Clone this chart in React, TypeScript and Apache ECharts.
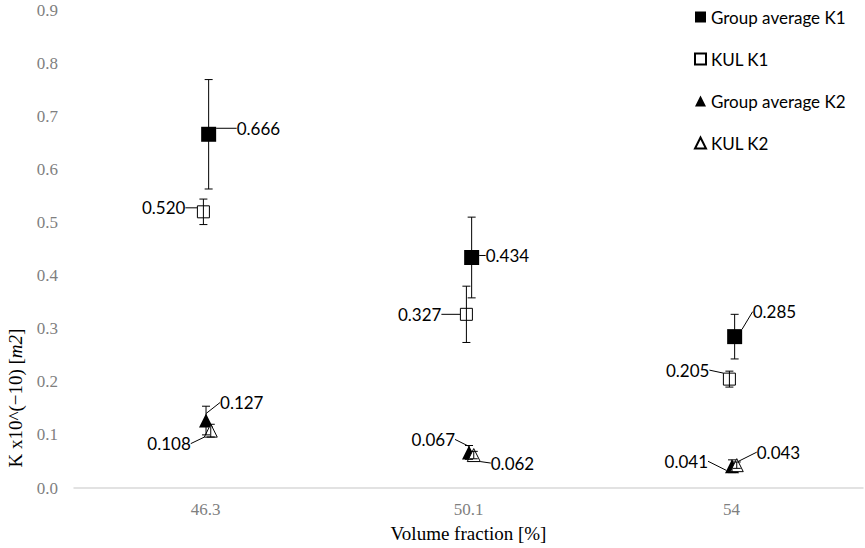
import React, { useEffect, useRef } from "react";
import * as echarts from "echarts";

// ---- data ----
const categories = ["46.3", "50.1", "54"];
const groupK1 = [0.666, 0.434, 0.285];
const groupK1Err = [0.103, 0.076, 0.042];
const kulK1 = [0.52, 0.327, 0.205];
const kulK1Err = [0.024, 0.053, 0.015];
const groupK2 = [0.127, 0.067, 0.041];
const groupK2Err = [0.027, 0.013, 0.012];
const kulK2 = [0.108, 0.062, 0.043];
const kulK2Err = [0.012, 0.007, 0.006];
const yMin = 0;
const yMax = 0.9;
const yStep = 0.1;

// ---- styles / label placement (pixels relative to the point) ----
const labelPlacement: Record<string, { dx: number; dy: number; align: string }[]> = {
  g1: [
    { dx: 28, dy: -6, align: "left" },
    { dx: 14, dy: -2, align: "left" },
    { dx: 18, dy: -25, align: "left" },
  ],
  k1: [
    { dx: -18, dy: -4, align: "right" },
    { dx: -25, dy: 0, align: "right" },
    { dx: -20, dy: -9, align: "right" },
  ],
  g2: [
    { dx: 14, dy: -18, align: "left" },
    { dx: -14, dy: -13, align: "right" },
    { dx: -24, dy: -5, align: "right" },
  ],
  k2: [
    { dx: -20, dy: 13, align: "right" },
    { dx: 17, dy: 8, align: "left" },
    { dx: 20, dy: -13, align: "left" },
  ],
};

const LABEL_FONT = "Lato, 'Noto Sans', sans-serif";
const SERIF = "'Liberation Serif', 'DejaVu Serif', serif";

function pts(vals: number[], shift: number) {
  return vals.map((v, i) => [i + 0.5 + shift, v]);
}
function errs(vals: number[], e: number[], shift: number) {
  return vals.map((v, i) => [i + 0.5 + shift, v - e[i], v + e[i]]);
}

export default function App() {
  const ref = useRef<HTMLDivElement>(null);
  useEffect(() => {
    if (!ref.current) return;
    const chart = echarts.init(ref.current, null, { renderer: "svg" });

    const scatter = (
      name: string,
      vals: number[],
      shift: number,
      symbol: string,
      size: number,
      filled: boolean,
      key: string
    ) => ({
      name,
      type: "scatter",
      xAxisIndex: 1,
      data: pts(vals, shift),
      symbol,
      symbolSize: size,
      z: 3,
      itemStyle: filled
        ? { color: "#000", borderColor: "#000", borderWidth: 0, opacity: 1 }
        : { color: "#fff", borderColor: "#000", borderWidth: 1, opacity: 1 },
      label: {
        show: true,
        position: "right",
        formatter: (p: any) => Number(p.value[1]).toFixed(3),
        fontFamily: LABEL_FONT,
        fontSize: 17,
        color: "#000",
      },
      labelLine: { show: true, lineStyle: { color: "#000", width: 1 } },
      labelLayout: (p: any) => {
        const o = labelPlacement[key][p.dataIndex];
        const cx = p.rect.x + p.rect.width / 2;
        const cy = p.rect.y + p.rect.height / 2;
        return { x: cx + o.dx, y: cy + o.dy, align: o.align, verticalAlign: "middle" };
      },
    });

    const errorBars = (vals: number[], e: number[], shift: number) => ({
      type: "custom",
      xAxisIndex: 1,
      z: 4,
      silent: true,
      encode: { x: 0, y: [1, 2] },
      data: errs(vals, e, shift),
      renderItem: (_params: any, api: any) => {
        const x = api.value(0);
        const top = api.coord([x, api.value(2)]);
        const bot = api.coord([x, api.value(1)]);
        const w = 4;
        const st = { stroke: "#000", lineWidth: 1 };
        return {
          type: "group",
          children: [
            { type: "line", shape: { x1: top[0], y1: top[1], x2: bot[0], y2: bot[1] }, style: st },
            { type: "line", shape: { x1: top[0] - w, y1: top[1], x2: top[0] + w, y2: top[1] }, style: st },
            { type: "line", shape: { x1: bot[0] - w, y1: bot[1], x2: bot[0] + w, y2: bot[1] }, style: st },
          ],
        };
      },
    });

    chart.setOption({
      animation: false,
      backgroundColor: "#fff",
      grid: { left: 74, right: 2, top: 10, bottom: 58, containLabel: false },
      legend: {
        orient: "vertical",
        left: 689,
        top: 2,
        itemWidth: 11,
        itemHeight: 11,
        itemGap: 22,
        textStyle: { fontFamily: LABEL_FONT, fontSize: 17, color: "#000", lineHeight: 20 },
        data: ["Group average K1", "KUL K1", "Group average K2", "KUL K2"],
      },
      xAxis: [
        {
          type: "category",
          data: categories,
          boundaryGap: true,
          axisLine: { show: true, lineStyle: { color: "#d9d9d9", width: 1.5 } },
          axisTick: { show: false },
          axisLabel: { fontFamily: SERIF, fontSize: 17, color: "#7f7f7f", margin: 13 },
          splitLine: { show: false },
          name: "Volume fraction [%]",
          nameLocation: "middle",
          nameGap: 36,
          nameTextStyle: { fontFamily: SERIF, fontSize: 19, color: "#000" },
        },
        {
          type: "value",
          min: 0,
          max: 3,
          show: false,
          splitLine: { show: false },
        },
      ],
      yAxis: {
        type: "value",
        min: yMin,
        max: yMax,
        interval: yStep,
        axisLine: { show: false },
        axisTick: { show: false },
        splitLine: { show: false },
        axisLabel: {
          fontFamily: SERIF,
          fontSize: 17,
          color: "#7f7f7f",
          margin: 16,
          formatter: (v: number) => v.toFixed(1),
        },
      },
      graphic: [
        {
          type: "text",
          x: 15,
          y: 398,
          rotation: Math.PI / 2,
          style: {
            text: "K x10^(−10) [{i|m2}]",
            fontFamily: SERIF,
            fontSize: 19,
            fill: "#000",
            align: "center",
            verticalAlign: "middle",
            rich: { i: { fontFamily: SERIF, fontSize: 19, fontStyle: "italic", fill: "#000" } },
          },
        },
      ],
      series: [
        errorBars(groupK1, groupK1Err, 0.012),
        errorBars(kulK1, kulK1Err, -0.008),
        errorBars(groupK2, groupK2Err, 0.002),
        errorBars(kulK2, kulK2Err, 0.02),
        scatter("Group average K1", groupK1, 0.012, "rect", 15, true, "g1"),
        scatter("KUL K1", kulK1, -0.008, "rect", 12, false, "k1"),
        scatter("Group average K2", groupK2, 0.002, "triangle", 14, true, "g2"),
        scatter("KUL K2", kulK2, 0.02, "triangle", 13, false, "k2"),
      ],
    });
    return () => chart.dispose();
  }, []);
  return (
    <div
      ref={ref}
      style={{ position: "fixed", left: 0, top: 0, width: 865, height: 548, background: "#fff" }}
    />
  );
}
